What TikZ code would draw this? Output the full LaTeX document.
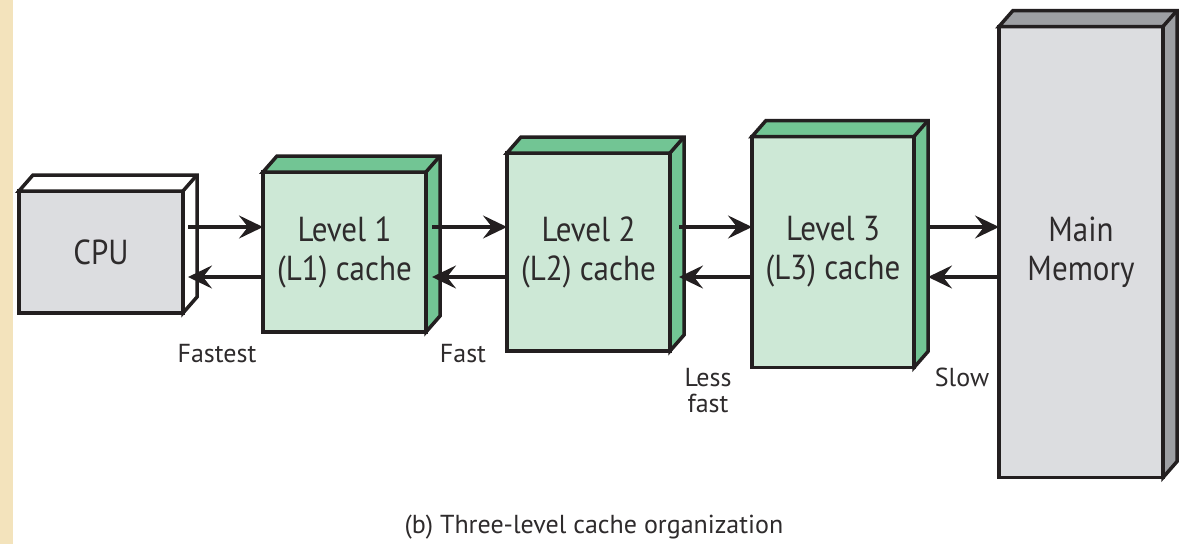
\documentclass[tikz,border=0pt]{standalone}
\usepackage{graphicx}
\usepackage{fontspec}
\setmainfont{PT Sans}
\usetikzlibrary{arrows.meta,calc}
\definecolor{parch}{HTML}{F3E3BC}
\definecolor{edge}{HTML}{231F20}
\definecolor{txt}{HTML}{2E2B2C}
\definecolor{lgreen}{HTML}{CDE8D6}
\definecolor{dgreen}{HTML}{72C594}
\definecolor{lgray}{HTML}{DCDDE0}
\definecolor{dgray}{HTML}{9D9FA3}
\newcommand\tall[1]{\scalebox{1}[1.12]{#1}}
\newcommand\depthfaces[2]{%
  \filldraw[face, fill=#2] (#1.north west) -- ++(14,-16) -- ($(#1.north east)+(14,-16)$) -- ($(#1.south east)+(14,-16)$) -- (#1.south east) -- (#1.north east) -- cycle;
  \draw[face] (#1.north east) -- ++(14,-16);}
\begin{document}
\begin{tikzpicture}[x=1pt,y=-1pt,
  face/.style={draw=edge, line width=3.5pt, line join=miter},
  frontbox/.style={face, rectangle, outer sep=0pt, inner sep=0pt, align=center,
     text=txt, font=\fontsize{31}{39}\selectfont},
  lbl/.style={text=txt, font=\fontsize{26}{26}\selectfont, align=center, inner sep=0pt},
  arr/.style={draw=edge, line width=3.2pt, -{Stealth[length=24pt, width=23pt, inset=9pt]}}]
\useasboundingbox (0,0) rectangle (1181,544);
\fill[white] (0,0) rectangle (1181,544);
\fill[parch] (0,0) rectangle (13,544);

\node[frontbox, fill=lgray, minimum width=164pt, minimum height=122pt] (cpu) at (101,252) {\tall{CPU}};
\depthfaces{cpu}{white}
\node[frontbox, fill=lgreen, minimum width=163pt, minimum height=160pt] (l1) at (344.5,252) {\tall{Level 1}\\\tall{(L1) cache}};
\depthfaces{l1}{dgreen}
\node[frontbox, fill=lgreen, minimum width=163pt, minimum height=198pt] (l2) at (588.5,252) {\tall{Level 2}\\\tall{(L2) cache}};
\depthfaces{l2}{dgreen}
\node[frontbox, fill=lgreen, minimum width=162pt, minimum height=231pt] (l3) at (833,252) {\tall{Level 3}\\\tall{(L3) cache}};
\depthfaces{l3}{dgreen}
\node[frontbox, fill=lgray, minimum width=164pt, minimum height=451pt] (mm) at (1081,252) {\tall{Main}\\\tall{Memory}};
\depthfaces{mm}{dgray}

\draw[arr] ($(cpu.east)+(5,-25)$) -- ($(l1.west)+(0,-25)$);
\draw[arr] ($(l1.west)+(0,25)$) -- ($(cpu.east)+(5,25)$);
\draw[arr] ($(l1.east)+(6,-25)$) -- ($(l2.west)+(0,-25)$);
\draw[arr] ($(l2.west)+(0,25)$) -- ($(l1.east)+(6,25)$);
\draw[arr] ($(l2.east)+(9,-25)$) -- ($(l3.west)+(0,-25)$);
\draw[arr] ($(l3.west)+(0,25)$) -- ($(l2.east)+(9,25)$);
\draw[arr] ($(l3.east)+(14,-25)$) -- ($(mm.west)+(0,-25)$);
\draw[arr] ($(mm.west)+(0,25)$) -- ($(l3.east)+(14,25)$);

\node[lbl] (fastest) at (217,354) {Fastest};
\node[lbl] (fast) at (463,354) {Fast};
\node[lbl, font=\fontsize{26}{26}\selectfont] (lessfast) at (708,391) {Less\\fast};
\node[lbl] (slow) at (962,377) {Slow};
\node[lbl] (caption) at (594,527) {(b) Three-level cache organization};
\end{tikzpicture}
\end{document}
